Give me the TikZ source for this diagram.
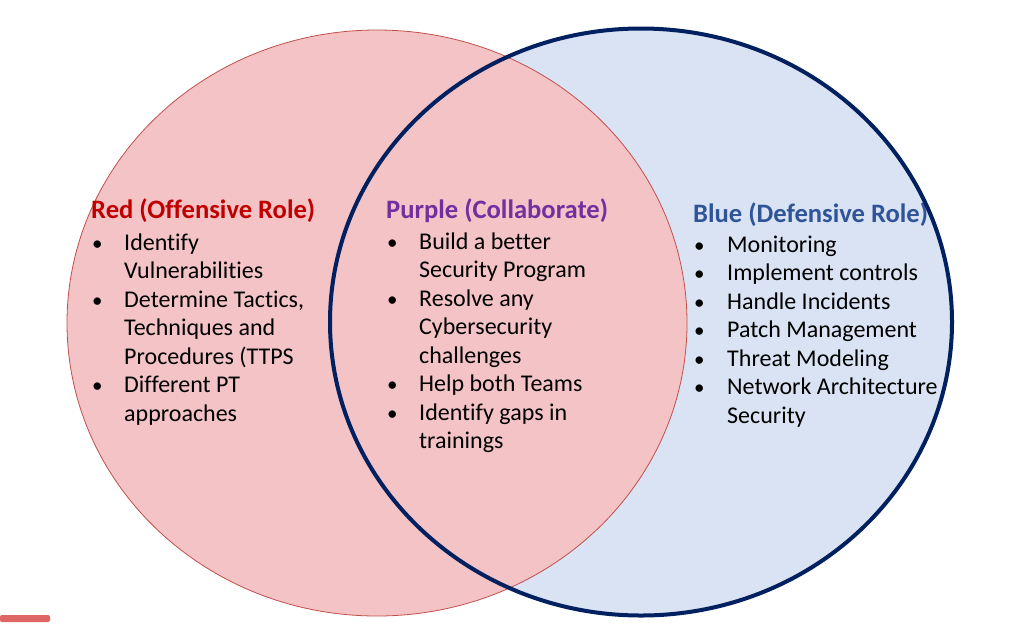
\documentclass[tikz,border=0pt]{standalone}
\usepackage{fontspec}
\setmainfont{Carlito}[Ligatures=NoCommon]
\definecolor{redfill}{HTML}{F4C3C6}
\definecolor{redline}{HTML}{C0504D}
\definecolor{bluefill}{HTML}{DAE3F3}
\definecolor{blueline}{HTML}{002060}
\definecolor{redtitle}{HTML}{C00000}
\definecolor{purpletitle}{HTML}{7030A0}
\definecolor{bluetitle}{HTML}{2F5597}
\definecolor{barcol}{HTML}{E06666}
\tikzset{
  txt/.style={anchor=base west, inner sep=0pt, font=\fontsize{24}{28}\selectfont, text=black},
  ttl/.style={anchor=base west, inner sep=0pt, font=\fontsize{26.6}{30}\selectfont\bfseries},
  bul/.style={anchor=base west, inner sep=0pt, font=\fontsize{21}{28}\selectfont, text=black},
}
\begin{document}
\begin{tikzpicture}[x=1pt,y=-1pt]
\useasboundingbox (0,0) rectangle (1024,638);
\fill[white] (0,0) rectangle (1024,638);
% circles
\fill[bluefill] (641,322) ellipse [x radius=311, y radius=293.5];
\filldraw[fill=redfill, draw=redline, line width=0.8pt] (377,323) ellipse [x radius=310, y radius=293];
% bar
\fill[barcol, rounded corners=2pt] (0,615) rectangle (50,622);
% red block
\node[ttl, text=redtitle] (rt) at (91,218.5) {Red (Offensive Role)};
\node[bul] (rb1) at (92,250) {•};
\node[txt] (r1) at (124,250) {Identify};
\node[txt] (r2) at (124,278.5) {Vulnerabilities};
\node[bul] (rb2) at (92,307) {•};
\node[txt] (r3) at (124,307) {Determine Tactics,};
\node[txt] (r4) at (124,335.5) {Techniques and};
\node[txt] (r5) at (124,364) {Procedures (TTPS};
\node[bul] (rb3) at (92,392.5) {•};
\node[txt] (r6) at (124,392.5) {Different PT};
\node[txt] (r7) at (124,421) {approaches};
% purple block
\node[ttl, text=purpletitle] (pt) at (386,218.5) {Purple (Collaborate)};
\node[bul] (pb1) at (387,249) {•};
\node[txt] (p1) at (419,249) {Build a better};
\node[txt] (p2) at (419,277.5) {Security Program};
\node[bul] (pb2) at (387,306) {•};
\node[txt] (p3) at (419,306) {Resolve any};
\node[txt] (p4) at (419,334.5) {Cybersecurity};
\node[txt] (p5) at (419,363) {challenges};
\node[bul] (pb3) at (387,391.5) {•};
\node[txt] (p6) at (419,391.5) {Help both Teams};
\node[bul] (pb4) at (387,420) {•};
\node[txt] (p7) at (419,420) {Identify gaps in};
\node[txt] (p8) at (419,448.5) {trainings};
% blue block
\node[ttl, text=bluetitle] (bt) at (693,222) {Blue (Defensive Role)};
\node[bul] (bb1) at (694,252) {•};
\node[txt] (b1) at (727,252) {Monitoring};
\node[bul] (bb2) at (694,280.5) {•};
\node[txt] (b2) at (727,280.5) {Implement controls};
\node[bul] (bb3) at (694,309) {•};
\node[txt] (b3) at (727,309) {Handle Incidents};
\node[bul] (bb4) at (694,337.5) {•};
\node[txt] (b4) at (727,337.5) {Patch Management};
\node[bul] (bb5) at (694,366) {•};
\node[txt] (b5) at (727,366) {Threat Modeling};
\node[bul] (bb6) at (694,394.5) {•};
\node[txt] (b6) at (727,394.5) {Network Architecture};
\node[txt] (b7) at (727,423) {Security};
% blue outline on top
\draw[blueline, line width=4pt] (641,322) ellipse [x radius=311, y radius=293.5];
\end{tikzpicture}
\end{document}
